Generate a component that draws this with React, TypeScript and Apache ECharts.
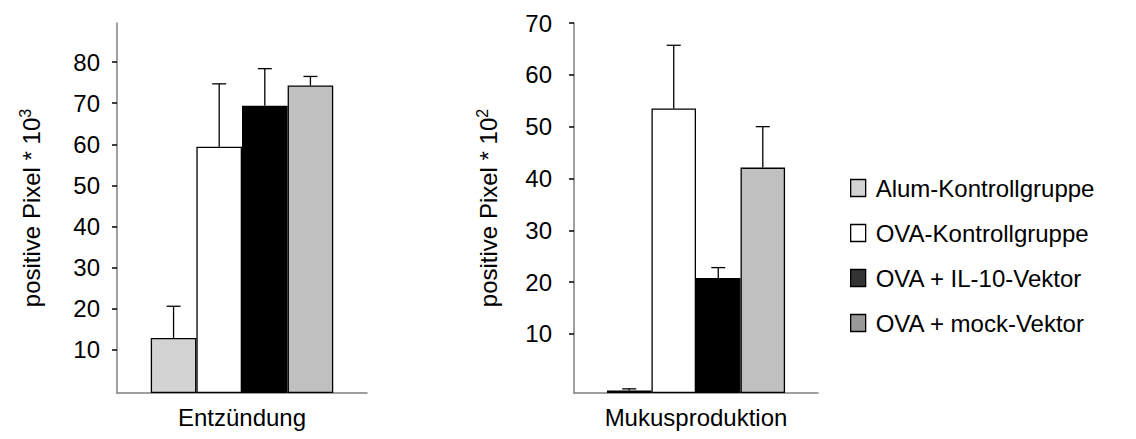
import React, { useEffect, useRef } from "react";
import * as echarts from "echarts";

const groups = ["Alum-Kontrollgruppe", "OVA-Kontrollgruppe", "OVA + IL-10-Vektor", "OVA + mock-Vektor"];
const barColors = ["#d3d3d3", "#ffffff", "#000000", "#c0c0c0"];
const legendColors = ["#d3d3d3", "#ffffff", "#333333", "#999999"];
const leftCategory = ["Entzündung"];
const rightCategory = ["Mukusproduktion"];
const leftMeans = [12.9, 59.4, 69.4, 74.3];
const leftErrors = [7.7, 15.3, 9.0, 2.2];
const rightMeans = [-0.9, 53.5, 20.8, 42.1];
const rightErrors = [0.3, 12.2, 2.0, 7.9];
const leftTicks = [10, 20, 30, 40, 50, 60, 70, 80];
const rightTicks = [10, 20, 30, 40, 50, 60, 70];

const FONT = "'Liberation Sans', Arial, sans-serif";
const CAT_GAP = 0.27;
const FS = 24;

function errorSeries(gridIdx: number, means: number[], errs: number[]) {
  return {
    type: "custom",
    xAxisIndex: gridIdx,
    yAxisIndex: gridIdx,
    z: 10,
    silent: true,
    encode: { x: 0, y: 1 },
    data: means.map((m, i) => [0, m, errs[i], i]),
    renderItem: (params: any, api: any) => {
      const mean = api.value(1);
      const err = api.value(2);
      const idx = api.value(3);
      const c = api.coord([0, mean]);
      const t = api.coord([0, mean + err]);
      const bw = (api.size([1, 0])[0] * (1 - CAT_GAP)) / 4;
      const x = c[0] + (idx - 1.5) * bw;
      const style = { stroke: "#000", lineWidth: 1.3 };
      return {
        type: "group",
        children: [
          { type: "line", shape: { x1: x, y1: c[1], x2: x, y2: t[1] }, style },
          { type: "line", shape: { x1: x - 7, y1: t[1], x2: x + 7, y2: t[1] }, style },
        ],
      };
    },
  };
}

export default function App() {
  const ref = useRef<HTMLDivElement>(null);
  useEffect(() => {
    document.body.style.margin = "0";
    const chart = echarts.init(ref.current!, undefined, { renderer: "svg" });
    const yAxisCommon = (min: number, max: number, ticks: number[], labelMargin: number, sup: string) => ({
      type: "value",
      min,
      max,
      startValue: min,
      splitLine: { show: false },
      axisLine: { show: true, onZero: false, lineStyle: { color: "#808080", width: 1.5 } },
      axisTick: { show: true, length: 5, customValues: ticks, lineStyle: { color: "#000", width: 1.5 } },
      axisLabel: { customValues: ticks, fontSize: FS, color: "#000", fontFamily: FONT, margin: labelMargin },
      name: "positive Pixel * 10{sup|" + sup + "}",
      nameLocation: "middle",
      nameGap: 72,
      nameRotate: 90,
      nameTextStyle: {
        fontSize: FS,
        color: "#000",
        fontFamily: FONT,
        rich: { sup: { fontSize: 16, fontFamily: FONT, color: "#000", padding: [0, 0, 12, 0] } },
      },
    });
    const xAxisCommon = (gridIndex: number, cat: string[]) => ({
      type: "category",
      gridIndex,
      data: cat,
      axisLine: { show: true, onZero: false, lineStyle: { color: "#808080", width: 1.5 } },
      axisTick: { show: false },
      axisLabel: { fontSize: FS, color: "#000", fontFamily: FONT, margin: 12 },
    });
    const bars: any[] = [];
    [0, 1].forEach((gi) => {
      const means = gi === 0 ? leftMeans : rightMeans;
      groups.forEach((g, i) => {
        bars.push({
          type: "bar",
          name: g,
          xAxisIndex: gi,
          yAxisIndex: gi,
          data: [means[i]],
          barGap: "0%",
          barCategoryGap: CAT_GAP * 100 + "%",
          itemStyle: { color: barColors[i], borderColor: "#000", borderWidth: 1.3 },
        });
      });
    });
    chart.setOption({
      animation: false,
      backgroundColor: "#fff",
      textStyle: { fontFamily: FONT },
      grid: [
        { left: 117, top: 23, width: 250, height: 370 },
        { left: 574, top: 23, width: 244, height: 370 },
      ],
      xAxis: [xAxisCommon(0, leftCategory), xAxisCommon(1, rightCategory)],
      yAxis: [
        { ...yAxisCommon(-0.5, 89.5, leftTicks, 17, "3"), gridIndex: 0 },
        { ...yAxisCommon(-1.4, 70, rightTicks, 22, "2"), gridIndex: 1 },
      ],
      legend: {
        orient: "vertical",
        left: 845,
        top: 171,
        itemWidth: 15,
        itemHeight: 17,
        itemGap: 21,
        icon: "rect",
        textStyle: { fontSize: 24, color: "#000", fontFamily: FONT, padding: [0, 0, 0, 5] },
        selectedMode: false,
        data: groups.map((g, i) => ({
          name: g,
          itemStyle: { color: legendColors[i], borderColor: "#000", borderWidth: 1.3 },
        })),
      },
      series: [...bars, errorSeries(0, leftMeans, leftErrors), errorSeries(1, rightMeans, rightErrors)],
    });
    return () => chart.dispose();
  }, []);
  return <div ref={ref} style={{ position: "fixed", left: 0, top: 0, width: 1136, height: 439 }} />;
}
